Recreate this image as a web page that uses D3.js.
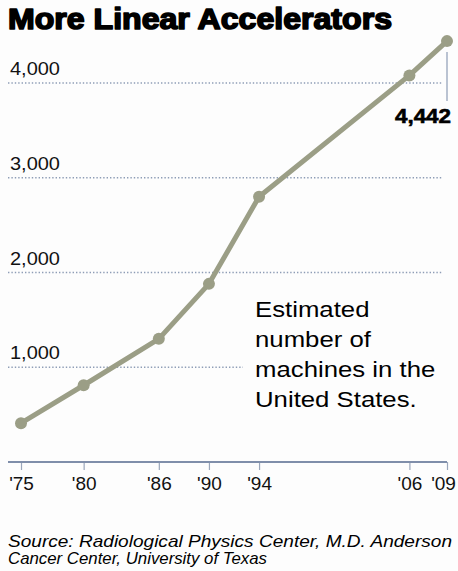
<!DOCTYPE html>
<html>
<head>
<meta charset="utf-8">
<script src="https://cdn.jsdelivr.net/npm/d3@7/dist/d3.min.js"></script>
<style>
  html, body { margin: 0; padding: 0; background: #fff; }
  text { font-family: "Liberation Sans", Arial, Helvetica, sans-serif; }
</style>
</head>
<body>
<script>
// ---- data ----
const years = [1975, 1980, 1986, 1990, 1994, 2006, 2009];
const machines = [410, 810, 1300, 1880, 2800, 4080, 4442];
const xTickLabels = ["'75", "'80", "'86", "'90", "'94", "'06", "'09"];
const yTicks = [1000, 2000, 3000, 4000];
const yTickLabels = ["1,000", "2,000", "3,000", "4,000"];
const titleText = "More Linear Accelerators";
const noteLines = ["Estimated", "number of", "machines in the", "United States."];
const sourceLines = ["Source: Radiological Physics Center, M.D. Anderson", "Cancer Center, University of Texas"];
const calloutLabel = "4,442";

// ---- layout ----
const W = 458, H = 571;
const svg = d3.select("body").append("svg").attr("width", W).attr("height", H);
svg.append("rect").attr("width", W).attr("height", H).attr("fill", "#fdfdfd");

const x = d3.scaleLinear().domain([1975, 2009]).range([21, 447]);
const y = d3.scaleLinear().domain([0, 4000]).range([462, 83]);

const gridColor = "#8e9db6";
const lineColor = "#9b9e86";

// title
svg.append("text")
  .attr("x", 8).attr("y", 29)
  .attr("font-size", 29).attr("font-weight", "bold")
  .attr("fill", "#000").attr("stroke", "#000").attr("stroke-width", 1.6)
  .attr("stroke-linejoin", "round")
  .attr("textLength", 384).attr("lengthAdjust", "spacingAndGlyphs")
  .text(titleText);

// gridlines
svg.append("g").selectAll("line").data(yTicks).join("line")
  .attr("x1", 8)
  .attr("x2", d => d === 1000 ? 243 : 443)
  .attr("y1", d => y(d)).attr("y2", d => y(d))
  .attr("stroke", gridColor).attr("stroke-width", 1.4)
  .attr("stroke-dasharray", "1.4,2");

// y tick labels
svg.append("g").selectAll("text").data(yTicks).join("text")
  .attr("transform", d => `translate(10,${y(d) - 8}) scale(1.11,1)`)
  .attr("font-size", 18).attr("fill", "#111")
  .text((d, i) => yTickLabels[i]);

// x axis
const xAxis = d3.axisBottom(x)
  .tickValues(years)
  .tickSize(8)
  .tickFormat((d, i) => xTickLabels[i]);
const gx = svg.append("g").attr("transform", `translate(0,${y(0)})`).call(xAxis);
gx.select(".domain").remove();
gx.selectAll(".tick line").attr("stroke", "#9aa6bb").attr("stroke-width", 1.2);
gx.selectAll(".tick text")
  .attr("y", 28).attr("dy", 0)
  .attr("x", (d, i) => i === years.length - 1 ? -4 : 0)
  .attr("font-size", 19).attr("fill", "#111")
  .attr("font-family", "\"Liberation Sans\", Arial, sans-serif");
svg.append("line")
  .attr("x1", 8).attr("x2", x(2009))
  .attr("y1", y(0)).attr("y2", y(0))
  .attr("stroke", "#7f8eaa").attr("stroke-width", 2);

// data line
const pts = years.map((yr, i) => [yr, machines[i]]);
svg.append("path")
  .datum(pts)
  .attr("d", d3.line().x(d => x(d[0])).y(d => y(d[1])))
  .attr("fill", "none").attr("stroke", lineColor)
  .attr("stroke-width", 5).attr("stroke-linejoin", "round").attr("stroke-linecap", "round");
svg.append("g").selectAll("circle").data(pts).join("circle")
  .attr("cx", d => x(d[0])).attr("cy", d => y(d[1]))
  .attr("r", 6).attr("fill", lineColor);

// callout for last value
const last = pts[pts.length - 1];
svg.append("line")
  .attr("x1", x(last[0])).attr("x2", x(last[0]))
  .attr("y1", y(last[1]) + 11).attr("y2", 101)
  .attr("stroke", "#8e9db6").attr("stroke-width", 1.2);
svg.append("text")
  .attr("transform", `translate(451,123) scale(1.12,1)`)
  .attr("text-anchor", "end")
  .attr("font-size", 20).attr("font-weight", "bold").attr("fill", "#000")
  .attr("stroke", "#000").attr("stroke-width", 0.6)
  .text(calloutLabel);

// note text
noteLines.forEach((t, i) => {
  svg.append("text")
    .attr("transform", `translate(255,${317 + i * 30}) scale(1.12,1)`)
    .attr("font-size", 23).attr("fill", "#000")
    .text(t);
});

// source
const srcW = [444, 259];
sourceLines.forEach((t, i) => {
  svg.append("text")
    .attr("x", 8).attr("y", 547 + i * 17)
    .attr("font-size", 16.5).attr("font-style", "italic").attr("fill", "#000")
    .attr("textLength", srcW[i]).attr("lengthAdjust", "spacingAndGlyphs")
    .text(t);
});
</script>
</body>
</html>
